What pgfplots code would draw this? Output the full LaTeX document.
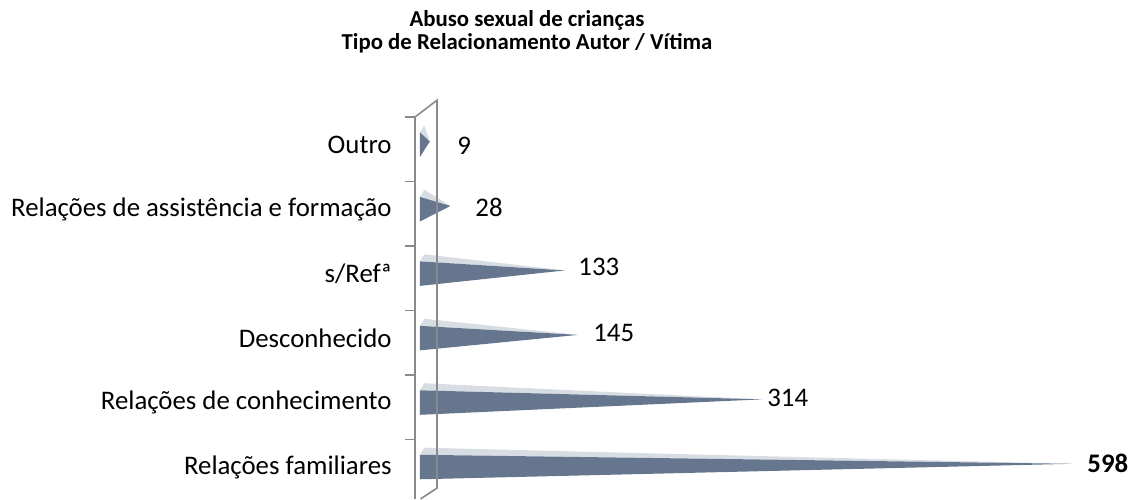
\documentclass[border=0pt]{standalone}
\usepackage{fontspec}
\setmainfont{Carlito}
\usepackage{pgfplots}
\pgfplotsset{compat=1.18}
\definecolor{barblue}{HTML}{66768E}
\definecolor{barlight}{HTML}{D8DCE3}
\definecolor{wallgray}{HTML}{8A8A8A}

\begin{document}
\begin{tikzpicture}
\begin{axis}[
    scale only axis,
    width=358.5pt, height=191pt,
    xmin=-4.59, xmax=653.2,
    ymin=-0.496, ymax=5.43,
    clip=false,
    axis x line=none,
    axis y line*=left,
    y axis line style={wallgray, line width=0.8pt},
    ytick={0,...,5},
    yticklabels={Relações familiares, Relações de conhecimento, Desconhecido, s/Refª, Relações de assistência e formação, Outro},
    major tick length=0pt,
    minor ytick={0.43,1.43,2.43,3.43,4.43,5.43},
    minor tick length=5pt,
    tick align=outside,
    minor tick style={wallgray, line width=0.8pt},
    yticklabel style={font=\fontsize{13.4}{15}\selectfont, inner sep=0pt, xshift=-11.5pt},
]
% Outro
\addplot[fill=barlight, draw=none] coordinates {(0,5.19) (4,5.30) (9,5.05)} -- cycle;
\addplot[fill=barblue, draw=none] coordinates {(0,4.81) (9,5.05) (0,5.19)} -- cycle;
% Relações de assistência e formação
\addplot[fill=barlight, draw=none] coordinates {(0,4.19) (4,4.30) (28,4.05)} -- cycle;
\addplot[fill=barblue, draw=none] coordinates {(0,3.81) (28,4.05) (0,4.19)} -- cycle;
% s/Refª
\addplot[fill=barlight, draw=none] coordinates {(0,3.19) (4,3.30) (133,3.05)} -- cycle;
\addplot[fill=barblue, draw=none] coordinates {(0,2.81) (133,3.05) (0,3.19)} -- cycle;
% Desconhecido
\addplot[fill=barlight, draw=none] coordinates {(0,2.19) (4,2.30) (145,2.05)} -- cycle;
\addplot[fill=barblue, draw=none] coordinates {(0,1.81) (145,2.05) (0,2.19)} -- cycle;
% Relações de conhecimento
\addplot[fill=barlight, draw=none] coordinates {(0,1.19) (4,1.30) (314,1.05)} -- cycle;
\addplot[fill=barblue, draw=none] coordinates {(0,0.81) (314,1.05) (0,1.19)} -- cycle;
% Relações familiares
\addplot[fill=barlight, draw=none] coordinates {(0,0.19) (4,0.30) (598,0.05)} -- cycle;
\addplot[fill=barblue, draw=none] coordinates {(0,-0.19) (598,0.05) (0,0.19)} -- cycle;

% value labels
\addplot[draw=none, nodes near coords, point meta=explicit symbolic,
    nodes near coords style={anchor=west, inner sep=0pt, font=\fontsize{13.4}{15}\selectfont}]
    coordinates {(33.9,4.99)[9] (50.5,4.02)[28] (145,3.10)[133] (158.7,2.08)[145] (318.3,1.07)[314] (612,0.06)[\textbf{598}]};

% wall
\draw[wallgray, line width=0.8pt] (axis cs:-4.59,5.43) -- (axis cs:15.6,5.69) -- (axis cs:15.6,-0.326) -- (axis cs:0.5,-0.496);

\node[align=center, font=\bfseries\fontsize{11.4}{11.6}\selectfont] at (rel axis cs:0.1562,1.2237)
    {Abuso sexual de crianças\\Tipo de Relacionamento Autor / Vítima};

\path (rel axis cs:-0.5788,0) rectangle (rel axis cs:1,1.3063);
\end{axis}
\end{tikzpicture}
\end{document}
